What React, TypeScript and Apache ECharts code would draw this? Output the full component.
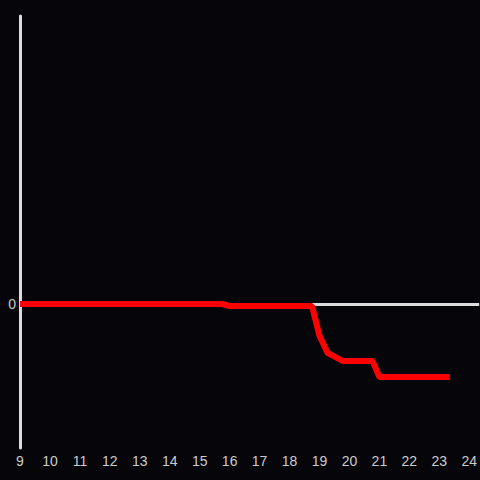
import React, { useEffect, useRef } from "react";
import * as echarts from "echarts";

const hours = [9, 15.75, 16, 18.75, 19, 19.27, 19.77, 20.77, 21, 23.35];
const values = [0, 0, -0.014, -0.014, -0.22, -0.34, -0.395, -0.395, -0.507, -0.507];
const xTicks = [9, 10, 11, 12, 13, 14, 15, 16, 17, 18, 19, 20, 21, 22, 23, 24];

export default function App() {
  const ref = useRef<HTMLDivElement>(null);
  useEffect(() => {
    if (!ref.current) return;
    const chart = echarts.init(ref.current, null, { renderer: "svg" });
    chart.setOption({
      animation: false,
      backgroundColor: "#060509",
      grid: { left: 20, right: 0, top: 16, bottom: 32 },
      xAxis: {
        type: "value",
        min: 9,
        max: 24.333,
        interval: 1,
        axisLine: { show: false },
        axisTick: { show: false },
        splitLine: { show: false },
        axisLabel: {
          color: "#cccccc",
          fontSize: 14,
          fontFamily: "Liberation Sans",
          margin: 6,
          showMaxLabel: false,
          formatter: (v: number) => (xTicks.includes(v) ? String(v) : ""),
        },
      },
      yAxis: {
        type: "value",
        min: -1,
        max: 2,
        interval: 1,
        axisLine: { show: true, onZero: false, lineStyle: { color: "#dddddd", width: 3 } },
        axisTick: { show: false },
        splitLine: { show: false },
        axisLabel: {
          color: "#cccccc",
          fontSize: 14,
          fontFamily: "Liberation Sans",
          margin: 4,
          formatter: (v: number) => (v === 0 ? "0" : ""),
        },
      },
      series: [
        {
          type: "line",
          data: hours.map((h, i) => [h, values[i]]),
          symbol: "none",
          lineStyle: { color: "#ff0000", width: 6 },
          z: 3,
          markLine: {
            silent: true,
            symbol: "none",
            label: { show: false },
            lineStyle: { color: "#dddddd", width: 3, type: "solid" },
            data: [[{ coord: [9, 0] }, { coord: [24.333, 0] }]],
            z: 1,
          },
        },
      ],
    });
    return () => chart.dispose();
  }, []);
  return <div ref={ref} style={{ width: 480, height: 480, position: "fixed", left: 0, top: 0 }} />;
}
